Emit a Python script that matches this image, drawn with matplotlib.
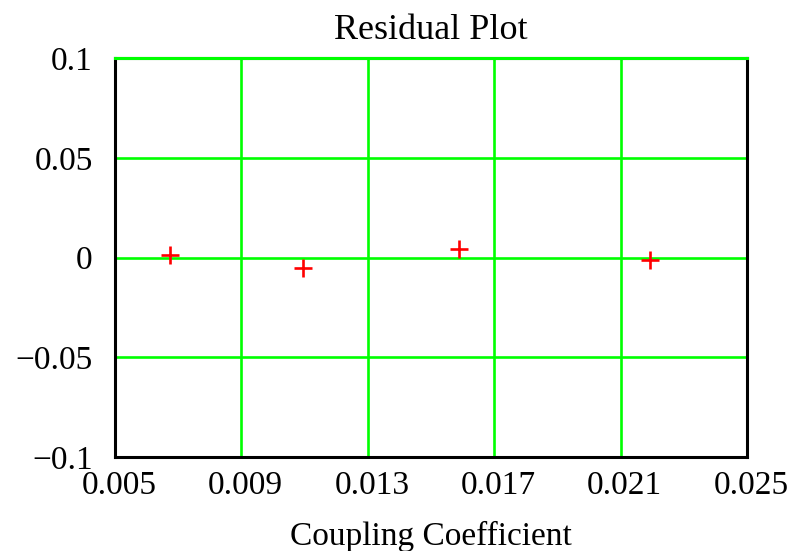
import matplotlib
matplotlib.use("Agg")
import matplotlib.pyplot as plt
import matplotlib.transforms as mtransforms

x_vals = [0.00674, 0.01096, 0.01589, 0.02193]
residuals = [0.0015, -0.0055, 0.0045, -0.0012]
x_ticks = [0.005, 0.009, 0.013, 0.017, 0.021, 0.025]
x_labels = ["0.005", "0.009", "0.013", "0.017", "0.021", "0.025"]
y_ticks = [0.1, 0.05, 0, -0.05, -0.1]
y_labels = ["0.1", "0.05", "0", "\u22120.05", "\u22120.1"]

plt.rcParams['font.family'] = ['Liberation Serif', 'DejaVu Serif']

fig = plt.figure(figsize=(8.07, 5.51), dpi=100)
ax = fig.add_axes([0.1425, 0.1706, 0.7832, 0.7241])
ax.set_xlim(0.005, 0.025)
ax.set_ylim(-0.1, 0.1)

green = '#00ff00'
for xv in x_ticks[1:-1]:
    ax.axvline(xv, color=green, lw=1.9, zorder=1)
for yv in [0.05, 0, -0.05]:
    ax.axhline(yv, color=green, lw=1.9, zorder=1)

for s in ax.spines.values():
    s.set_color('black')
    s.set_linewidth(2.2)
    s.set_zorder(3)
ax.axhline(0.1, color=green, lw=2.2, zorder=4, clip_on=False)

ax.plot(x_vals, residuals, linestyle='none', marker='+', color='#ff0000',
        markersize=13, markeredgewidth=1.9, zorder=5)

ax.set_xticks(x_ticks)
ax.set_xticklabels(x_labels)
ax.set_yticks(y_ticks)
ax.set_yticklabels(y_labels)
ax.tick_params(axis='both', length=0, labelsize=24)
ax.tick_params(axis='x', pad=10)
ax.tick_params(axis='y', pad=16)

offset = mtransforms.ScaledTranslation(4 / 100, 0, fig.dpi_scale_trans)
for lbl in ax.get_xticklabels():
    lbl.set_transform(lbl.get_transform() + offset)

ax.set_title("Residual Plot", fontsize=26, pad=14)
ax.set_xlabel("Coupling Coefficient", fontsize=24, labelpad=14)

fig.savefig("out.png", dpi=100)
